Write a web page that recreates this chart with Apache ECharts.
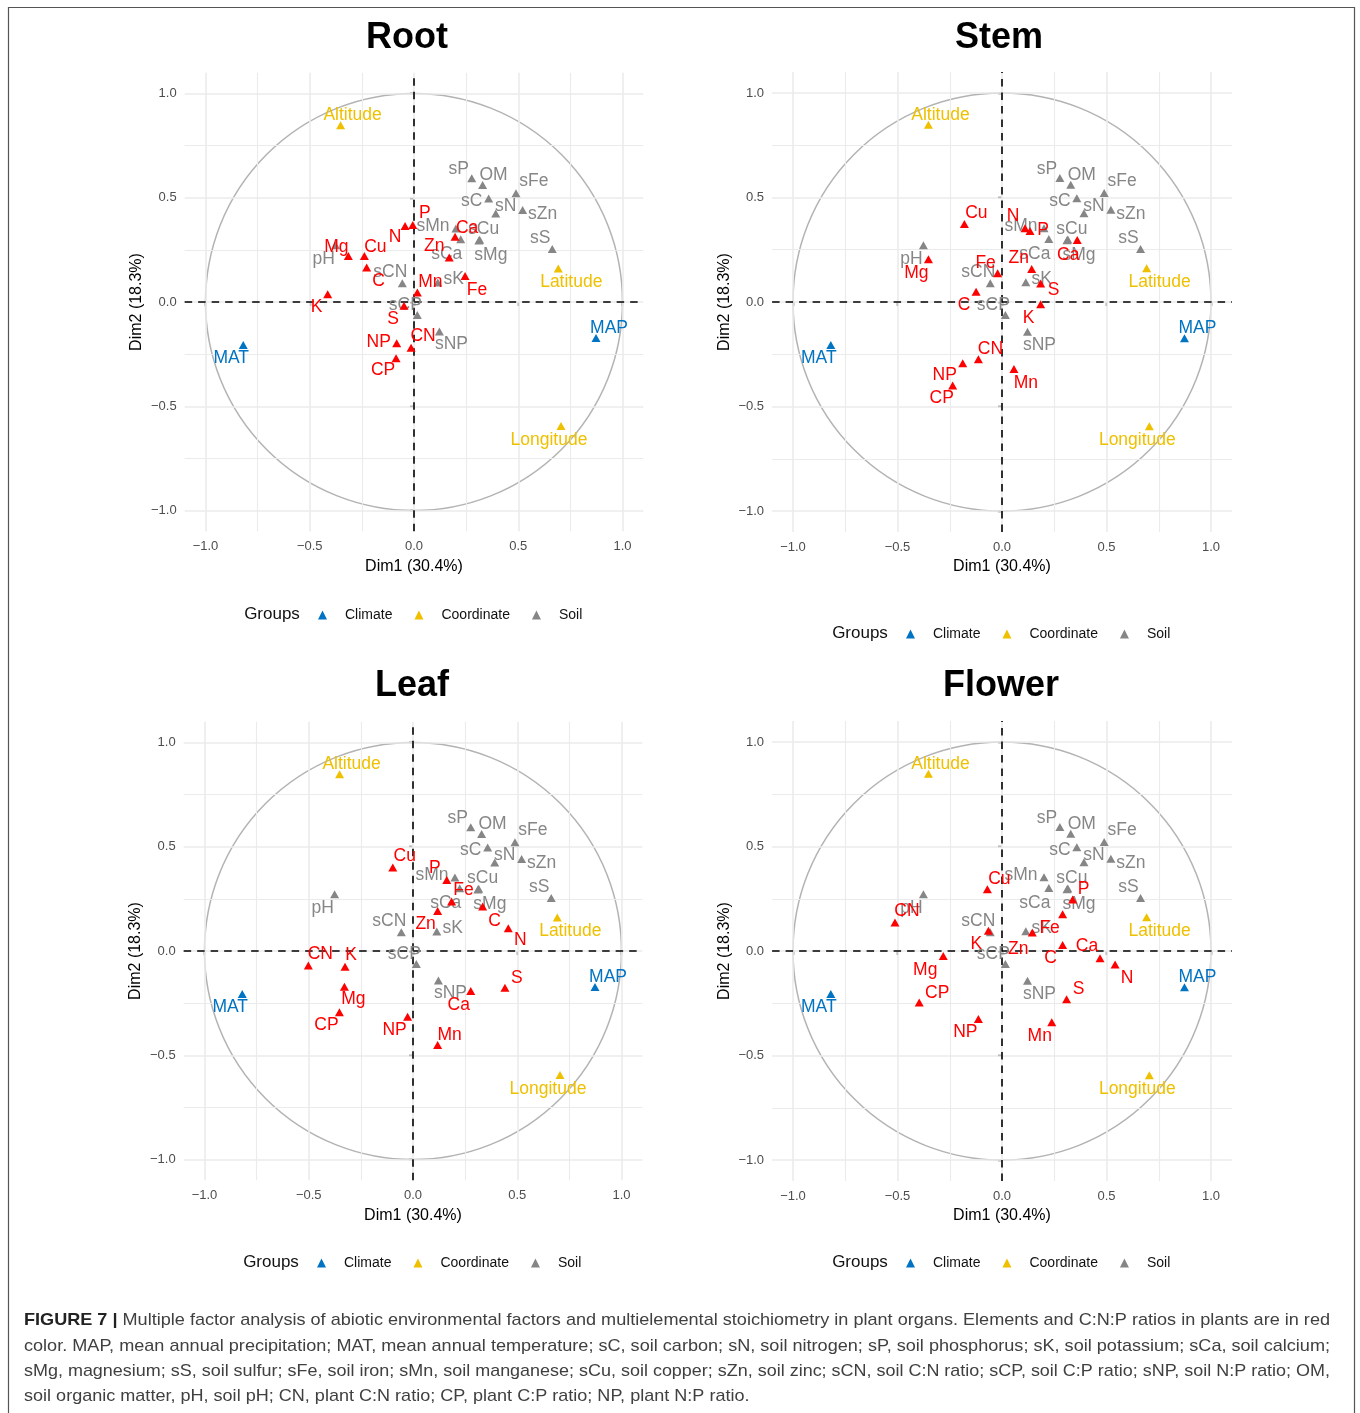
<!DOCTYPE html>
<html><head><meta charset="utf-8">
<script src="https://cdn.jsdelivr.net/npm/echarts@6/dist/echarts.min.js"></script>
<style>html,body{margin:0;padding:0;background:#fff}#c{width:1360px;height:1413px}</style>
</head><body><div id="c"></div>
<script>
// ---------------- DATA ----------------
const tickValues = [-1.0, -0.5, 0.0, 0.5, 1.0];
const majorGrid = [-1.0, -0.5, 0.0, 0.5, 1.0];
const minorGrid = [-0.75, -0.25, 0.25, 0.75];
const circleRadius = 1;

const climateNames = ['MAT', 'MAP'];
const climateX = [-0.819, 0.873];
const climateY = [-0.206, -0.173];

const coordNames = ['Altitude', 'Latitude', 'Longitude'];
const coordX = [-0.352, 0.692, 0.705];
const coordY = [0.848, 0.161, -0.595];

const soilNames = ['sP', 'OM', 'sFe', 'sC', 'sN', 'sZn', 'sMn', 'sCa', 'sCu', 'sMg', 'sS', 'pH', 'sCN', 'sK', 'sCP', 'sNP'];
const soilX = [0.277, 0.329, 0.489, 0.358, 0.392, 0.521, 0.201, 0.224, 0.315, 0.311, 0.663, -0.376, -0.056, 0.114, 0.016, 0.122];
const soilY = [0.593, 0.561, 0.521, 0.497, 0.425, 0.441, 0.353, 0.301, 0.299, 0.295, 0.254, 0.272, 0.090, 0.094, -0.062, -0.142];

const plantNames = ['C', 'N', 'P', 'K', 'Ca', 'Mg', 'S', 'Fe', 'Mn', 'Cu', 'Zn', 'CN', 'CP', 'NP'];
const rootX   = [-0.227, -0.043, -0.006, -0.414, 0.197, -0.315, -0.048, 0.245, 0.016, -0.238, 0.169, -0.014, -0.086, -0.083];
const rootY   = [0.166, 0.364, 0.369, 0.037, 0.313, 0.221, -0.018, 0.125, 0.045, 0.221, 0.214, -0.219, -0.270, -0.198];
const stemX   = [-0.124, 0.110, 0.134, 0.185, 0.360, -0.352, 0.185, -0.021, 0.057, -0.180, 0.142, -0.113, -0.236, -0.188];
const stemY   = [0.049, 0.353, 0.340, -0.011, 0.297, 0.204, 0.089, 0.137, -0.321, 0.373, 0.158, -0.274, -0.400, -0.293];
const leafX   = [0.334, 0.457, 0.162, -0.326, 0.277, -0.329, 0.441, 0.185, 0.118, -0.097, 0.118, -0.502, -0.353, -0.026];
const leafY   = [0.213, 0.109, 0.341, -0.075, -0.192, -0.171, -0.176, 0.237, -0.451, 0.400, 0.192, -0.070, -0.294, -0.315];
const flowerX = [0.290, 0.541, 0.338, -0.065, 0.469, -0.281, 0.309, 0.290, 0.238, -0.070, 0.145, -0.512, -0.396, -0.113];
const flowerY = [0.029, -0.064, 0.247, 0.097, -0.035, -0.024, -0.231, 0.176, -0.341, 0.295, 0.089, 0.136, -0.246, -0.325];

const panelTitles = ['Root', 'Stem', 'Leaf', 'Flower'];
const xTitle = 'Dim1 (30.4%)';
const yTitle = 'Dim2 (18.3%)';
const groupNames = ['Climate', 'Coordinate', 'Soil'];

const captionLines = [
  'Multiple factor analysis of abiotic environmental factors and multielemental stoichiometry in plant organs. Elements and C:N:P ratios in plants are in red',
  'color. MAP, mean annual precipitation; MAT, mean annual temperature; sC, soil carbon; sN, soil nitrogen; sP, soil phosphorus; sK, soil potassium; sCa, soil calcium;',
  'sMg, magnesium; sS, soil sulfur; sFe, soil iron; sMn, soil manganese; sCu, soil copper; sZn, soil zinc; sCN, soil C:N ratio; sCP, soil C:P ratio; sNP, soil N:P ratio; OM,',
  'soil organic matter, pH, soil pH; CN, plant C:N ratio; CP, plant C:P ratio; NP, plant N:P ratio.'
];
const captionHead = 'FIGURE 7 |';

// ---------------- LAYOUT (label offsets, positions, styles) ----------------
const FONT = '"Liberation Sans", Arial, Helvetica, sans-serif';
const COL = { Climate: '#0073C2', Coordinate: '#EFC000', Soil: '#868686', Plant: '#FF0000' };
const climateOff = { MAT: [-12, 13], MAP: [13, -10] };
const coordOff = { Altitude: [12, -10], Latitude: [13, 14], Longitude: [-12, 14] };
const soilOff = { sP: [-13, -9], OM: [11, -10], sFe: [18, -12], sC: [-17, 3], sN: [10, -7], sZn: [20, 4],
  sMn: [-23, -2], sCa: [-14, 15], sCu: [4, -10], sMg: [12, 15], sS: [-12, -11], pH: [-12, 14],
  sCN: [-12, -11], sK: [16, -3], sCP: [-12, -10], sNP: [12, 13] };
const plantOff = [
  { C: [12, 14], N: [-10, 11], P: [12, -12], K: [-11, 13], Ca: [12, -9], Mg: [-12, -9], S: [-11, 13], Fe: [12, 14], Mn: [13, -10], Cu: [11, -9], Zn: [-15, -11], CN: [12, -11], CP: [-13, 12], NP: [-18, -1] },
  { C: [-12, 13], N: [-12, -12], P: [13, -1], K: [-12, 14], Ca: [-9, 15], Mg: [-12, 14], S: [13, 7], Fe: [-12, -10], Mn: [12, 14], Cu: [12, -11], Zn: [-13, -11], CN: [12, -10], CP: [-11, 13], NP: [-18, 12] },
  { C: [12, 15], N: [12, 12], P: [-12, -12], K: [6, -11], Ca: [-12, 14], Mg: [9, 13], S: [12, -10], Fe: [12, -11], Mn: [12, -10], Cu: [12, -11], Zn: [-12, 13], CN: [12, -11], CP: [-13, 13], NP: [-13, 13] },
  { C: [-12, 13], N: [12, 14], P: [11, -10], K: [-12, 13], Ca: [-13, -12], Mg: [-18, 14], S: [12, -10], Fe: [-13, 14], Mn: [-12, 14], Cu: [12, -10], Zn: [-14, 17], CN: [12, -11], CP: [18, -9], NP: [-13, 13] }
];
const panels = [
  { cx: 414, cy: 302, unit: 208.5, titleX: 407, titleY: 38, groupsX: 272, legendLeft: 318, legendY: 614 },
  { cx: 1002, cy: 302, unit: 209, titleX: 999, titleY: 38, groupsX: 860, legendLeft: 906, legendY: 633 },
  { cx: 413, cy: 951, unit: 208.5, titleX: 412, titleY: 686, groupsX: 271, legendLeft: 317, legendY: 1262 },
  { cx: 1002, cy: 951, unit: 209, titleX: 1001, titleY: 686, groupsX: 860, legendLeft: 906, legendY: 1262 }
];
const plantX = [rootX, stemX, leafX, flowerX];
const plantY = [rootY, stemY, leafY, flowerY];

function fmt(v) { return v.toFixed(1).replace('-', '\u2212'); }
function pts(names, xs, ys, offs) {
  return names.map((n, i) => ({ name: n, value: [xs[i], ys[i]], label: { offset: offs[n] || [0, 0] } }));
}

const grids = [], xAxes = [], yAxes = [], series = [], legends = [], graphics = [];

panels.forEach((p, i) => {
  const half = 1.1 * p.unit;
  grids.push({ left: p.cx - half, top: p.cy - half, width: 2 * half, height: 2 * half, containLabel: false });
  xAxes.push({
    gridIndex: i, type: 'value', min: -1.1, max: 1.1,
    axisLine: { show: false }, splitLine: { show: false },
    axisTick: { show: true, length: 4, lineStyle: { color: '#333', width: 1.4 }, customValues: tickValues },
    axisLabel: { customValues: tickValues, formatter: fmt, color: '#4d4d4d', fontSize: 13, fontFamily: FONT, margin: 9 },
    name: xTitle, nameLocation: 'middle', nameGap: 27,
    nameTextStyle: { fontSize: 16, color: '#000', fontFamily: FONT }
  });
  yAxes.push({
    gridIndex: i, type: 'value', min: -1.1, max: 1.1,
    axisLine: { show: false }, splitLine: { show: false },
    axisTick: { show: true, length: 4, lineStyle: { color: '#333', width: 1.4 }, customValues: tickValues },
    axisLabel: { customValues: tickValues, formatter: fmt, color: '#4d4d4d', fontSize: 13, fontFamily: FONT, margin: 8 },
    name: yTitle, nameLocation: 'middle', nameGap: 40, nameRotate: 90,
    nameTextStyle: { fontSize: 16, color: '#000', fontFamily: FONT }
  });
  const gridData = [];
  majorGrid.forEach(v => { gridData.push({ xAxis: v, lineStyle: { width: 1.6 } }); gridData.push({ yAxis: v, lineStyle: { width: 1.6 } }); });
  minorGrid.forEach(v => { gridData.push({ xAxis: v, lineStyle: { width: 1.1 } }); gridData.push({ yAxis: v, lineStyle: { width: 1.1 } }); });
  series.push({
    type: 'line', xAxisIndex: i, yAxisIndex: i, data: [[0, 0]], symbol: 'none', silent: true, z: 1, animation: false,
    markLine: { silent: true, symbol: ['none', 'none'], label: { show: false }, animation: false,
      lineStyle: { color: '#ebebeb', type: 'solid', opacity: 1 }, emphasis: { disabled: true }, data: gridData }
  });
  series.push({
    type: 'custom', xAxisIndex: i, yAxisIndex: i, data: [[0, 0, circleRadius]], silent: true, z: 2, animation: false,
    renderItem: function (params, api) {
      const c = api.coord([api.value(0), api.value(1)]);
      const s = api.size([api.value(2), api.value(2)]);
      return { type: 'circle', shape: { cx: c[0], cy: c[1], r: (s[0] + s[1]) / 2 },
        style: { fill: 'none', stroke: '#b3b3b3', lineWidth: 1.5 } };
    }
  });
  series.push({
    type: 'line', xAxisIndex: i, yAxisIndex: i, data: [[0, 0]], symbol: 'none', silent: true, z: 3, animation: false,
    markLine: { silent: true, symbol: ['none', 'none'], label: { show: false }, animation: false,
      lineStyle: { color: '#000', type: [7.5, 6], width: 1.6, opacity: 1 }, emphasis: { disabled: true },
      data: [{ xAxis: 0 }, { yAxis: 0 }] }
  });
  const mk = (name, data, color, z) => ({
    name, type: 'scatter', xAxisIndex: i, yAxisIndex: i, data, z, animation: false,
    symbol: 'triangle', symbolSize: [9, 8], itemStyle: { color, opacity: 1 },
    label: { show: true, position: 'inside', formatter: '{b}', color, fontSize: 17.5, fontFamily: FONT },
    emphasis: { disabled: true }
  });
  series.push(mk('Climate', pts(climateNames, climateX, climateY, climateOff), COL.Climate, 5));
  series.push(mk('Coordinate', pts(coordNames, coordX, coordY, coordOff), COL.Coordinate, 5));
  series.push(mk('Soil', pts(soilNames, soilX, soilY, soilOff), COL.Soil, 5));
  series.push(mk('Plant', pts(plantNames, plantX[i], plantY[i], plantOff[i]), COL.Plant, 6));

  legends.push({
    data: groupNames, left: p.legendLeft, top: p.legendY - 6, orient: 'horizontal', padding: 0,
    itemWidth: 9, itemHeight: 9, itemGap: 22, icon: 'triangle', selectedMode: false,
    itemStyle: { opacity: 1 },
    textStyle: { fontSize: 14, color: '#111', fontFamily: FONT, padding: [0, 0, 0, 13] }
  });
  graphics.push({ type: 'text', silent: true, style: { text: panelTitles[i], x: p.titleX, y: p.titleY, align: 'center', verticalAlign: 'middle',
    fontSize: 36, fontWeight: 'bold', fontFamily: FONT, fill: '#000' } });
  graphics.push({ type: 'text', silent: true, style: { text: 'Groups', x: p.groupsX, y: p.legendY, align: 'center', verticalAlign: 'middle',
    fontSize: 17, fontFamily: FONT, fill: '#111' } });
});

// border
graphics.push({ type: 'rect', silent: true, shape: { x: 8.5, y: 7.5, width: 1346, height: 1420 },
  style: { fill: 'none', stroke: '#555', lineWidth: 1.2 } });

// caption (justified lines)
const capFont = 17, capLeft = 24, capWidth = 1306, capYs = [1320, 1346, 1371, 1396];
const mctx = document.createElement('canvas').getContext('2d');
function tw(t, bold) { mctx.font = (bold ? 'bold ' : '') + capFont + 'px ' + FONT; return mctx.measureText(t).width; }
const headW = tw(captionHead, true) + tw(' ', false);
const natural = captionLines.map((t, k) => (k === 0 ? headW : 0) + tw(t, false));
const scales = natural.map(w => capWidth / w);
const avgScale = (scales[0] + scales[1] + scales[2]) / 3;
captionLines.forEach((t, k) => {
  const sc = k < 3 ? scales[k] : avgScale;
  const txt = k === 0 ? '{b|' + captionHead + '} ' + t : t;
  graphics.push({ type: 'text', silent: true, x: capLeft, y: capYs[k], scaleX: sc, originX: 0,
    style: { text: txt, x: 0, y: 0, verticalAlign: 'middle', align: 'left', fontSize: capFont, fontFamily: FONT, fill: '#404040',
      rich: { b: { fontWeight: 'bold', fontSize: capFont, fontFamily: FONT, fill: '#222' } } } });
});

const chart = echarts.init(document.getElementById('c'), null, { renderer: 'canvas' });
chart.setOption({
  backgroundColor: '#fff', animation: false,
  grid: grids, xAxis: xAxes, yAxis: yAxes, series, legend: legends, graphic: graphics, tooltip: { show: false }
});
</script></body></html>
